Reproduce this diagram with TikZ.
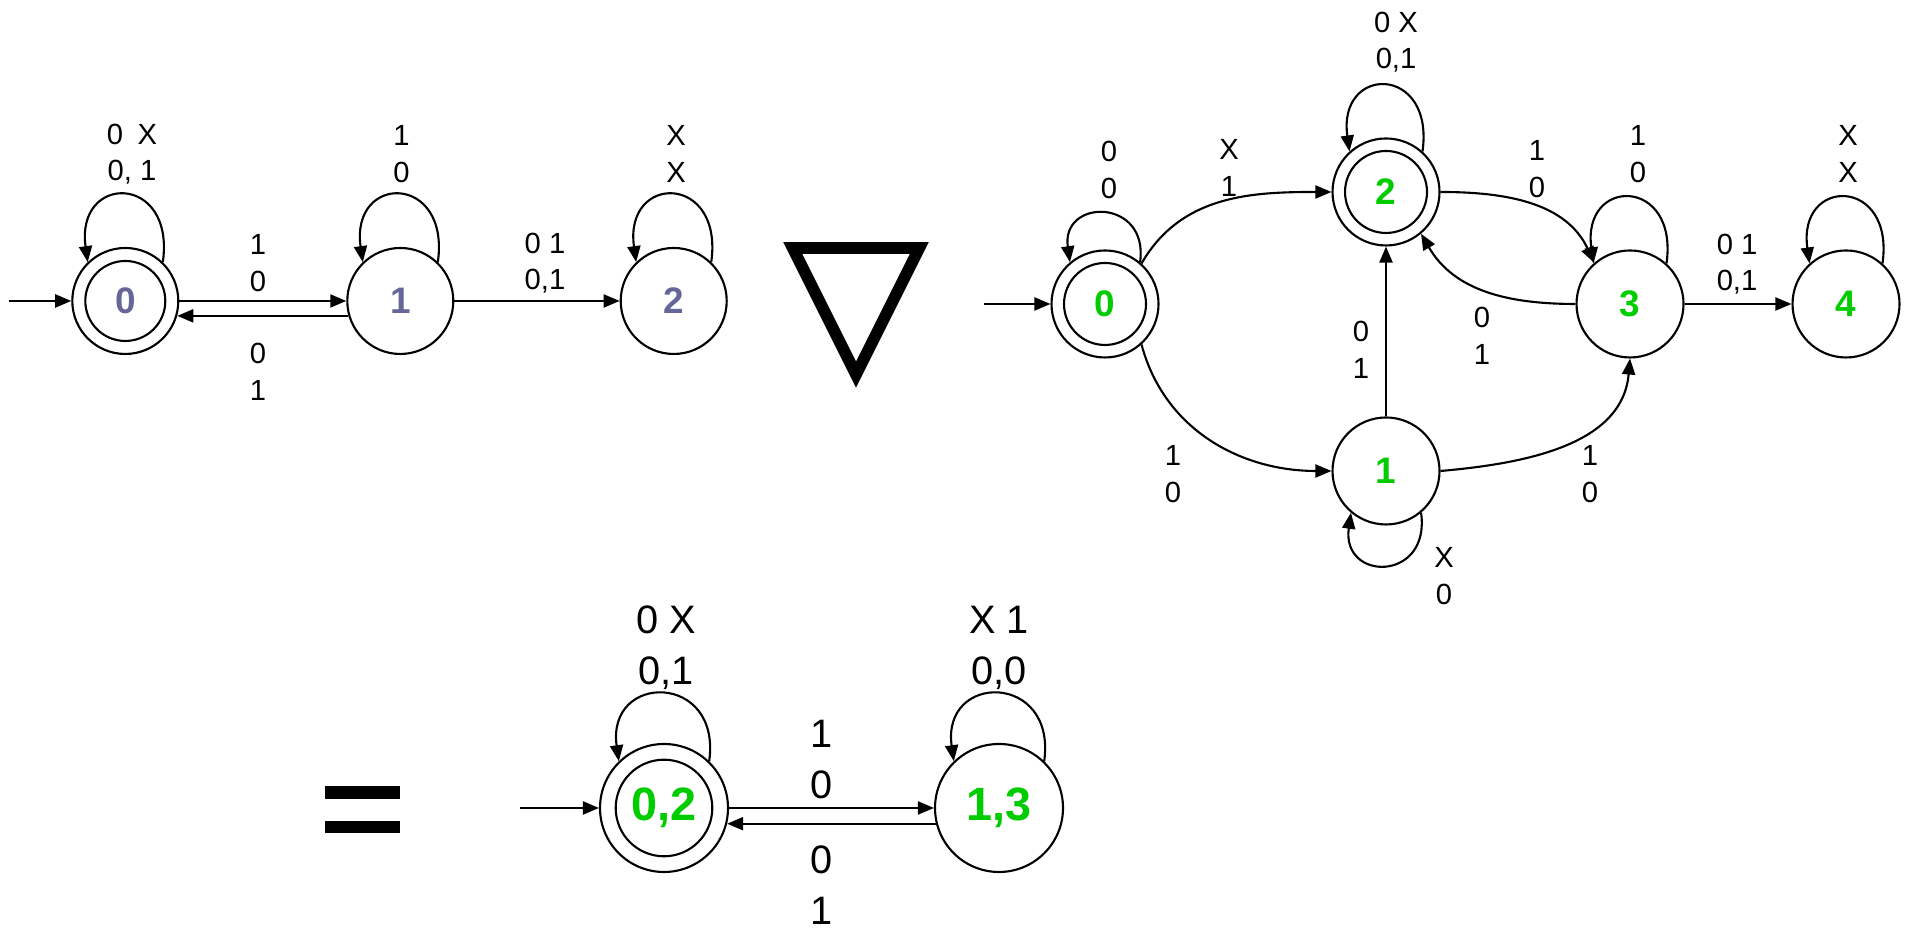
\documentclass[tikz,border=0pt]{standalone}
\usepackage{fontspec}
\setmainfont{Liberation Sans}
\usetikzlibrary{arrows.meta}
\definecolor{stateblue}{RGB}{102,102,153}
\definecolor{stategreen}{RGB}{0,204,0}

\begin{document}
\begin{tikzpicture}[
    st/.style={circle,draw,line width=0.6pt,minimum size=1.06cm,inner sep=0pt,
      font=\fontsize{10.5}{12}\selectfont\bfseries},
    bigst/.style={st,minimum size=1.28cm,font=\fontsize{13.3}{15}\selectfont\bfseries},
    finalring/.style={path picture={\draw[line width=0.6pt]
      (path picture bounding box.center) circle (#1);}},
    arr/.style={line width=0.6pt,-{Triangle[length=1.6mm,width=1.3mm]}},
    lbl/.style={align=center,inner sep=0pt,font=\fontsize{8.3}{10.4}\selectfont},
    biglbl/.style={lbl,font=\fontsize{11.3}{14.5}\selectfont}]
  \useasboundingbox (0,0) rectangle (19.06,9.28);

  % First automaton
  \node[st,finalring=0.40,text=stateblue] (L0) at (1.253,6.27) {0};
  \node[st,text=stateblue] (L1) at (4.003,6.27) {1};
  \node[st,text=stateblue] (L2) at (6.737,6.27) {2};
  \coordinate (sL) at (0.087,6.27);
  \draw[arr] (sL) -- (L0.west);
  \draw[arr] (L0.east) -- (L1.west);
  \draw[arr] (L1.196) -- (L0.-16);
  \draw[arr] (L1.east) -- (L2.west);
  \foreach \s in {L0,L1,L2}{
    \draw[arr] (\s.46) .. controls +(82:0.9) and +(98:0.9) .. (\s.134);
  }
  \node[lbl] (lL00) at (1.32,7.74) {0\enspace X\\0, 1};
  \node[lbl] (lL11) at (4.015,7.74) {1\\0};
  \node[lbl] (lL22) at (6.76,7.74) {X\\X};
  \node[lbl] (lL01) at (2.58,6.65) {1\\0};
  \node[lbl] (lL10) at (2.58,5.56) {0\\1};
  \node[lbl] (lL12) at (5.45,6.65) {0 1\\0,1};

  % Product sign
  \draw[line width=0.117cm,line join=miter]
    (7.927,6.80) -- (9.193,6.80) -- (8.56,5.534) -- cycle;

  % Second automaton
  \node[st,minimum size=1.07cm,finalring=0.41,text=stategreen] (R0) at (11.05,6.24) {0};
  \node[st,minimum size=1.07cm,finalring=0.41,text=stategreen] (R2) at (13.86,7.36) {2};
  \node[st,minimum size=1.07cm,text=stategreen] (R1) at (13.86,4.57) {1};
  \node[st,minimum size=1.07cm,text=stategreen] (R3) at (16.30,6.24) {3};
  \node[st,minimum size=1.07cm,text=stategreen] (R4) at (18.46,6.24) {4};
  \coordinate (sR) at (9.84,6.24);
  \draw[arr] (sR) -- (R0.west);
  \draw[arr] (R0.48) to[out=60,in=180] (R2.west);
  \draw[arr] (R0.-48) to[out=-75,in=180] (R1.west);
  \draw[arr] (R1.north) -- (R2.south);
  \draw[arr] (R2.east) to[out=0,in=115] (R3.131);
  \draw[arr] (R3.west) to[out=180,in=-60] (R2.-50);
  \draw[arr] (R1.east) to[out=5,in=-95] (R3.south);
  \draw[arr] (R3.east) -- (R4.west);
  \draw[arr] (R0.50) .. controls +(82:0.65) and +(98:0.65) .. (R0.130);
  \foreach \s in {R2,R3,R4}{
    \draw[arr] (\s.48) .. controls +(82:0.88) and +(98:0.88) .. (\s.132);
  }
  \draw[arr] (R1.-50) .. controls +(-82:0.7) and +(-98:0.7) .. (R1.-130);
  \node[lbl] (lR00) at (11.09,7.58) {0\\0};
  \node[lbl] (lR02) at (12.29,7.60) {X\\1};
  \node[lbl] (lR22) at (13.96,8.86) {0 X\\0,1};
  \node[lbl] (lR23) at (15.37,7.59) {1\\0};
  \node[lbl] (lR33) at (16.38,7.74) {1\\0};
  \node[lbl] (lR44) at (18.48,7.74) {X\\X};
  \node[lbl] (lR32) at (14.82,5.92) {0\\1};
  \node[lbl] (lR34) at (17.37,6.64) {0 1\\0,1};
  \node[lbl] (lR12) at (13.61,5.78) {0\\1};
  \node[lbl] (lR01) at (11.73,4.54) {1\\0};
  \node[lbl] (lR13) at (15.90,4.54) {1\\0};
  \node[lbl] (lR11) at (14.44,3.52) {X\\0};

  % Equals sign
  \fill (3.245,1.29) rectangle (3.995,1.42);
  \fill (3.245,0.945) rectangle (3.995,1.07);

  % Resulting automaton
  \node[bigst,finalring=0.483,text=stategreen] (B0) at (6.64,1.20) {0,2};
  \node[bigst,text=stategreen] (B1) at (9.99,1.20) {1,3};
  \coordinate (sB) at (5.20,1.20);
  \draw[arr] (sB) -- (B0.west);
  \draw[arr] (B0.east) -- (B1.west);
  \draw[arr] (B1.194) -- (B0.-14);
  \foreach \s in {B0,B1}{
    \draw[arr] (\s.46) .. controls +(82:0.9) and +(98:0.9) .. (\s.134);
  }
  \node[biglbl] (lB00) at (6.66,2.805) {0 X\\0,1};
  \node[biglbl] (lB11) at (9.99,2.805) {X 1\\0,0};
  \node[biglbl] (lB01) at (8.22,1.685) {1\\0};
  \node[biglbl] (lB10) at (8.22,0.43) {0\\1};
\end{tikzpicture}
\end{document}
